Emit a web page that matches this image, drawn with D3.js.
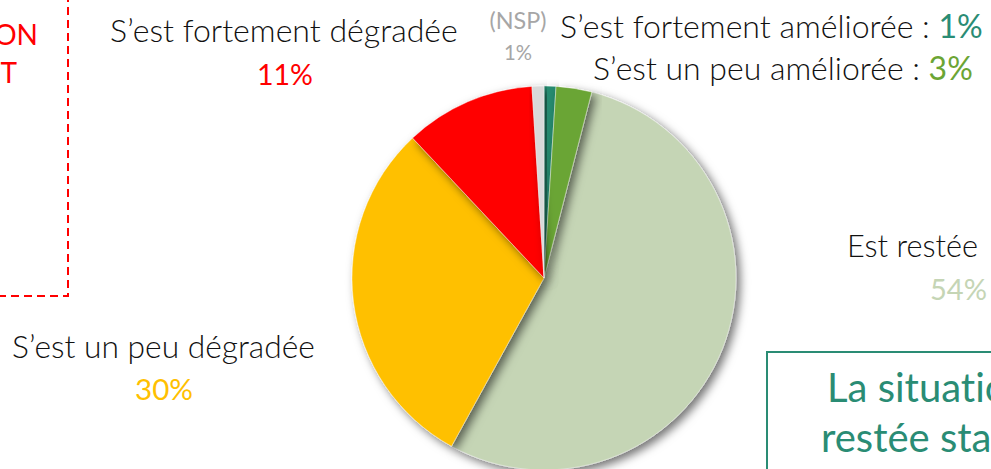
<!DOCTYPE html>
<html>
  <style>
    body { margin: 0; background: #fff; overflow: hidden; }
    text { font-family: Lato, "Open Sans", sans-serif; font-weight: 400; font-variant-ligatures: none; }
    .lbl { font-weight: 300; }
  </style>
  <body>
    <div id="chart"></div>
  </body>
  <script src="https://d3js.org/d3.v7.min.js"></script>
  <script>
    // Slices, clockwise from 12 o'clock
    const categories = ["S’est fortement améliorée", "S’est un peu améliorée", "Est restée", "S’est un peu dégradée", "S’est fortement dégradée", "(NSP)"];
    const values = [1, 3, 54, 30, 11, 1];
    const sliceColors = ["#258B70", "#6BA534", "#C5D5B5", "#FFC000", "#FF0000", "#D9D9D9"];
    const labelColors = ["#2A8C74", "#6BA534", "#C5D5B5", "#FFC000", "#FF0000", "#A6A6A6"];

    var W = 991, H = 469;
    var CX = 544, CY = 278, R = 192;

    var svg = d3.select("#chart").append("svg")
      .attr("width", W).attr("height", H);

    // drop shadow
    var f = svg.append("defs").append("filter").attr("id", "shadow")
      .attr("x", "-20%").attr("y", "-20%").attr("width", "140%").attr("height", "140%");
    f.append("feDropShadow").attr("dx", 4).attr("dy", 4).attr("stdDeviation", 5)
      .attr("flood-color", "#000").attr("flood-opacity", 0.55);

    // red dashed box (cropped at the left)
    svg.append("rect")
      .attr("x", -100).attr("y", -20).attr("width", 168).attr("height", 316)
      .attr("fill", "none").attr("stroke", "#FF0000").attr("stroke-width", 2)
      .attr("stroke-dasharray", "8,5");
    svg.append("text").attr("x", 38).attr("y", 45).attr("text-anchor", "end")
      .attr("fill", "#FF0000").style("font-size", "28px").text("DÉGRADATION");
    svg.append("text").attr("x", 17).attr("y", 83).attr("text-anchor", "end")
      .attr("fill", "#FF0000").style("font-size", "28px").text("EST");

    // pie
    var pie = d3.pie().sort(null).value(function(d) { return d; });
    var arc = d3.arc().innerRadius(0).outerRadius(R);
    var arcs = pie(values).map(function(a, i) { a.i = i; return a; });
    // draw the big stable slice first so others cast shadow on it
    var order = [2, 0, 1, 3, 4, 5];
    var g = svg.append("g").attr("transform", "translate(" + CX + "," + CY + ")");
    g.selectAll("path")
      .data(order.map(function(i) { return arcs[i]; }))
      .enter().append("path")
      .attr("d", arc)
      .attr("fill", function(d) { return sliceColors[d.i]; })
      .attr("stroke", "#fff").attr("stroke-width", 0.4)
      .attr("filter", "url(#shadow)");

    // text fitted to a width; parts = [text, colour, isLabel]
    function addText(x, y, anchor, width, parts, size) {
      var t = svg.append("text").attr("x", x).attr("y", y).attr("text-anchor", anchor)
        .style("font-size", size + "px");
      parts.forEach(function(p) {
        t.append("tspan").attr("fill", p[1]).attr("class", p[2] ? "lbl" : null).text(p[0]);
      });
      var w = t.node().getComputedTextLength();
      t.style("font-size", (size * width / w) + "px");
      return t;
    }

    var pct = function(i) { return values[i] + "%"; };

    addText(110, 42, "start", 348, [[categories[4], "#111", 1]], 30);
    addText(285, 85, "middle", 56, [[pct(4), labelColors[4]]], 30);

    addText(518, 29, "middle", 57, [[categories[5], labelColors[5]]], 20);
    addText(518, 60, "middle", 28, [[pct(5), labelColors[5]]], 20);

    addText(560, 38, "start", 423, [[categories[0] + " : ", "#111", 1], [pct(0), labelColors[0]]], 30);
    addText(593, 80, "start", 380, [[categories[1] + " : ", "#111", 1], [pct(1), labelColors[1]]], 30);

    addText(847, 257, "start", 131, [[categories[2], "#111", 1]], 30);
    addText(930, 300, "start", 57, [[pct(2), labelColors[2]]], 30);

    addText(12, 358, "start", 303, [[categories[3], "#111", 1]], 30);
    addText(164, 400, "middle", 58, [[pct(3), labelColors[3]]], 30);

    // green conclusion box (cropped at the right)
    svg.append("rect")
      .attr("x", 767).attr("y", 352).attr("width", 400).attr("height", 200)
      .attr("fill", "#fff").attr("stroke", "#2A8C74").attr("stroke-width", 2);
    svg.append("text").attr("x", 827).attr("y", 402).attr("fill", "#2A8C74")
      .style("font-size", "40px").text("La situation est");
    svg.append("text").attr("x", 821).attr("y", 452).attr("fill", "#2A8C74")
      .style("font-size", "40px").text("restée stable");
  </script>
</html>
